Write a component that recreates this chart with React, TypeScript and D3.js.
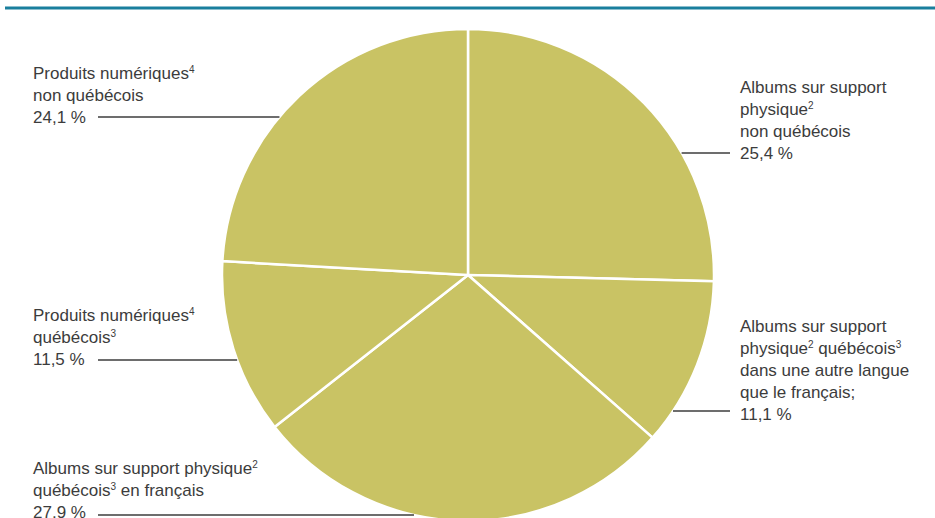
import React from "react";
import * as d3 from "d3";

const categories = [
  "Albums sur support physique non québécois",
  "Albums sur support physique québécois dans une autre langue que le français",
  "Albums sur support physique québécois en français",
  "Produits numériques québécois",
  "Produits numériques non québécois",
];
const values = [25.4, 11.1, 27.9, 11.5, 24.1];

// label lines: array of segments [text, isSuperscript]
type Seg = [string, boolean];
const labelLines: Seg[][][] = [
  [
    [["Albums sur support", false]],
    [["physique", false], ["2", true]],
    [["non québécois", false]],
    [["25,4 %", false]],
  ],
  [
    [["Albums sur support", false]],
    [["physique", false], ["2", true], [" québécois", false], ["3", true]],
    [["dans une autre langue", false]],
    [["que le français;", false]],
    [["11,1 %", false]],
  ],
  [
    [["Albums sur support physique", false], ["2", true]],
    [["québécois", false], ["3", true], [" en français", false]],
    [["27,9 %", false]],
  ],
  [
    [["Produits numériques", false], ["4", true]],
    [["québécois", false], ["3", true]],
    [["11,5 %", false]],
  ],
  [
    [["Produits numériques", false], ["4", true]],
    [["non québécois", false]],
    [["24,1 %", false]],
  ],
];

const W = 935;
const H = 518;
const cx = 468;
const cy = 275;
const R = 246;
const lineH = 22;

const labelLayout = [
  { side: "right", x: 740, y0: 93, lineY: 153, lineFar: 730 },
  { side: "right", x: 740, y0: 332, lineY: 411, lineFar: 730 },
  { side: "left", x: 33, y0: 474, lineY: 515, lineFar: 98 },
  { side: "left", x: 33, y0: 321, lineY: 360, lineFar: 98 },
  { side: "left", x: 33, y0: 79, lineY: 117, lineFar: 98 },
];

const FILL = "#c9c364";
const TEXT = "#3c3c3c";

export default function App() {
  const pie = d3
    .pie<number>()
    .sort(null)
    .value((d) => d)
    .startAngle(0)
    .endAngle(2 * Math.PI);
  const arcs = pie(values);
  const arc = d3.arc<d3.PieArcDatum<number>>().innerRadius(0).outerRadius(R);

  return (
    <svg
      width={W}
      height={H}
      style={{ position: "absolute", left: 0, top: 0, background: "#fff" }}
      fontFamily="'Liberation Sans', Arial, sans-serif"
    >
      <line x1={5} x2={W} y1={8} y2={8} stroke="#1a7f9d" strokeWidth={3} />
      <g transform={`translate(${cx},${cy})`}>
        {arcs.map((a, i) => (
          <path
            key={categories[i]}
            d={arc(a) || ""}
            fill={FILL}
            stroke="#ffffff"
            strokeWidth={2.5}
            strokeLinejoin="round"
          />
        ))}
      </g>
      {labelLayout.map((L, i) => {
        const dy = L.lineY - cy;
        const dx = Math.sqrt(Math.max(0, R * R - dy * dy));
        const edgeX = L.side === "left" ? cx - dx : cx + dx;
        return (
          <g key={"lbl" + i}>
            <line
              x1={L.lineFar}
              x2={edgeX}
              y1={L.lineY}
              y2={L.lineY}
              stroke="#3c3c3c"
              strokeWidth={1.4}
            />
            <text x={L.x} fill={TEXT} fontSize={17}>
              {labelLines[i].map((segs, j) => (
                <tspan key={j} x={L.x} y={L.y0 + j * lineH}>
                  {segs.map((s, k) =>
                    s[1] ? (
                      <tspan key={k} fontSize={10} dy={-6.5}>
                        {s[0]}
                      </tspan>
                    ) : (
                      <tspan key={k} dy={k > 0 && segs[k - 1][1] ? 6.5 : 0}>
                        {s[0]}
                      </tspan>
                    )
                  )}
                </tspan>
              ))}
            </text>
          </g>
        );
      })}
    </svg>
  );
}
